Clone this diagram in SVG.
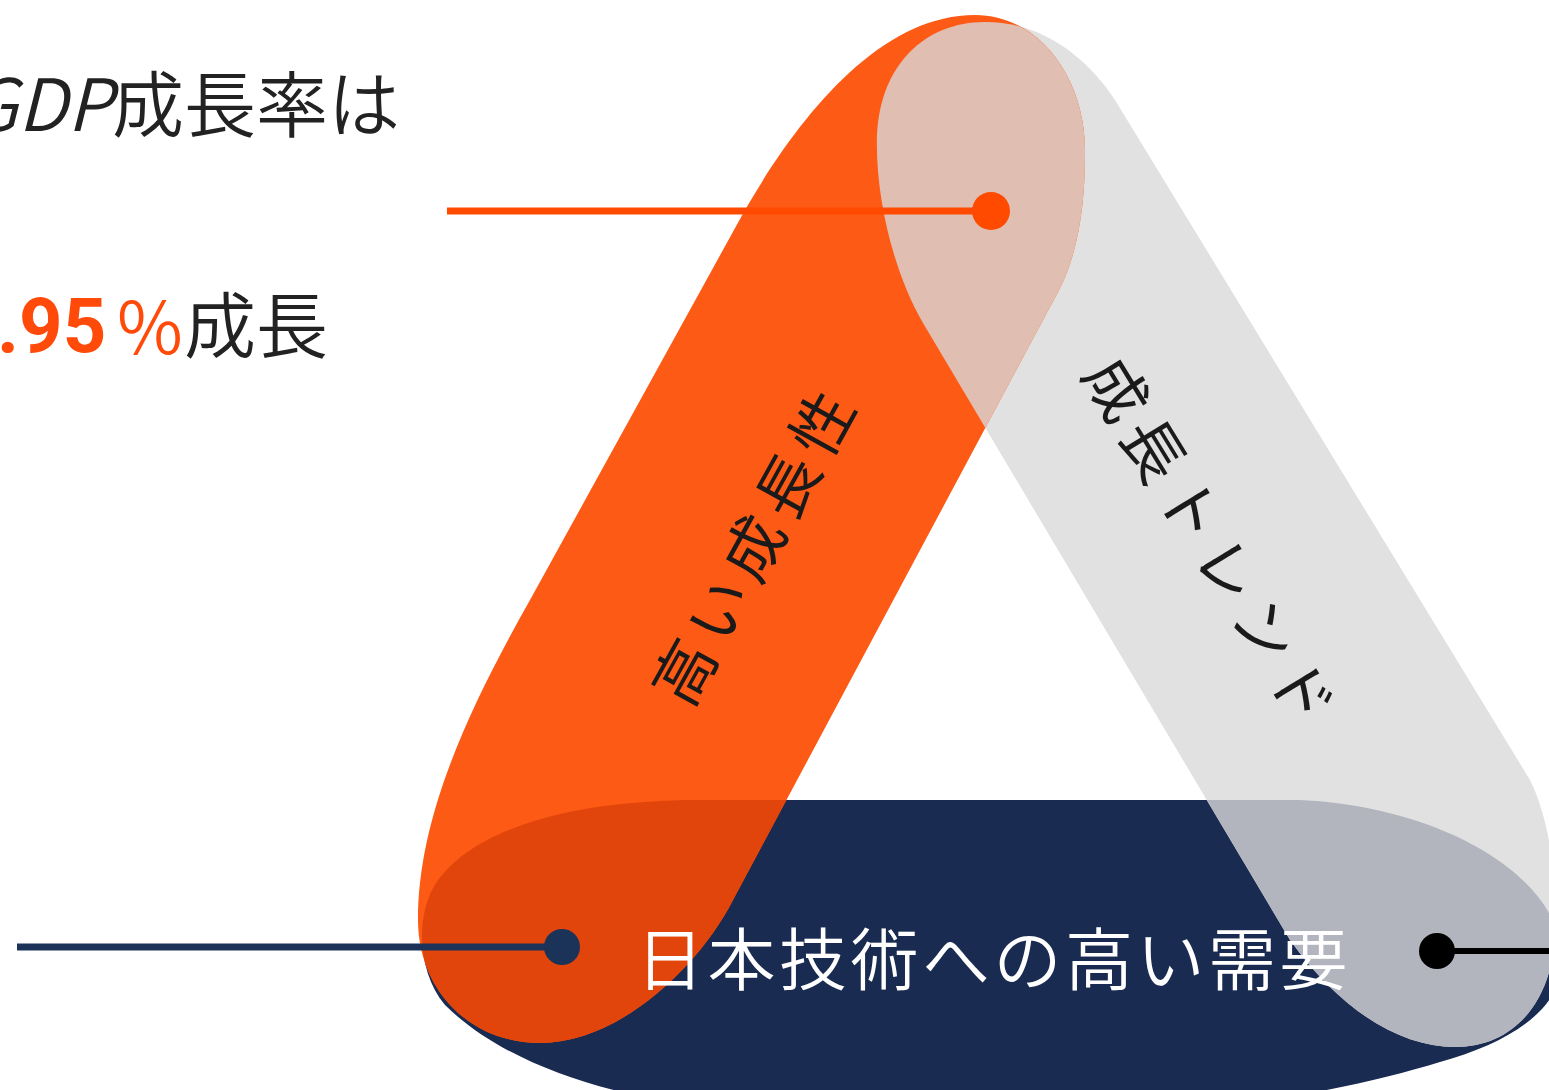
<svg xmlns="http://www.w3.org/2000/svg" width="1549" height="1090" viewBox="0 0 1549 1090">
<style>
.jp{font-family:"Noto Sans CJK JP","Noto Sans",sans-serif;font-weight:350}
.dark{fill:#222222}
.num{font-family:Roboto,"Liberation Sans",sans-serif;font-weight:700;fill:#ff4a0a}
.lbl{font-family:"Noto Sans CJK JP","Noto Sans",sans-serif;font-weight:400;fill:#1a1a1a;font-size:62px;letter-spacing:9px}
</style>
<defs>
<path id="pO" d="M 975 15 C 1040 15, 1087 80, 1085 155 C 1085 205, 1078 255, 1058 292 L 733 900 C 700 965, 620 1043, 540 1043 C 470 1043, 418 990, 418 920 C 418 820, 465 715, 530 600 L 745 210 C 800 115, 880 15, 975 15 Z"/>
<path id="pG" d="M 923 323 L 1290 940 C 1340 1010, 1400 1047, 1455 1047 C 1515 1047, 1556 1000, 1556 920 C 1556 860, 1545 810, 1530 780 L 1115 100 C 1085 55, 1040 22, 985 22 C 925 22, 880 65, 877 135 C 875 200, 895 275, 923 323 Z"/>
<path id="pN" d="M 700 800 L 1300 800 C 1420 805, 1540 860, 1560 940 C 1575 1000, 1520 1040, 1440 1062 C 1380 1080, 1300 1100, 1200 1105 L 700 1105 C 600 1095, 500 1060, 445 1005 C 420 975, 415 925, 432 890 C 465 830, 570 800, 700 800 Z"/>
<clipPath id="cG"><use href="#pG"/></clipPath>
<clipPath id="cN"><use href="#pN"/></clipPath>
</defs>
<rect width="1549" height="1090" fill="#ffffff"/>
<g id="band-navy"><use href="#pN" fill="#1a2b51"/></g>
<g id="band-grey"><use href="#pG" fill="#e1e1e1"/></g>
<g id="band-orange"><use href="#pO" fill="#fd5a16"/></g>
<g id="overlaps">
<use href="#pO" fill="#e0bfb2" clip-path="url(#cG)"/>
<use href="#pO" fill="#e2450b" clip-path="url(#cN)"/>
<use href="#pG" fill="#b3b5be" clip-path="url(#cN)"/>
</g>
<g id="label-orange"><text class="lbl" transform="translate(752,542) rotate(-61)" text-anchor="middle" dominant-baseline="central">高い成長性</text></g>
<g id="label-grey"><text class="lbl" transform="translate(1215,542) rotate(58.5)" text-anchor="middle" dominant-baseline="central">成長トレンド</text></g>
<g id="label-navy"><text class="jp" x="636" y="985" font-size="68" letter-spacing="3.5" fill="#ffffff">日本技術への高い需要</text></g>
<g id="text-gdp"><text class="jp dark" x="400" y="131" font-size="72" text-anchor="end"><tspan font-style="italic">GDP</tspan>成長率は</text></g>
<g id="text-rate">
<text class="num" x="-3" y="352" font-size="76">.95</text>
<text class="jp" x="117" y="354" font-size="72" font-weight="300" fill="#ff4a0a">%</text>
<text class="jp dark" x="184" y="352" font-size="72">成長</text>
</g>
<g id="connectors">
<line x1="447" y1="211" x2="990" y2="211" stroke="#ff4a00" stroke-width="7"/>
<circle cx="991" cy="211" r="19" fill="#ff4a00"/>
<line x1="17" y1="947" x2="560" y2="947" stroke="#1b3358" stroke-width="7"/>
<circle cx="562" cy="947" r="18" fill="#1b3358"/>
<line x1="1437" y1="951" x2="1549" y2="951" stroke="#000000" stroke-width="6"/>
<circle cx="1437" cy="951" r="18" fill="#000000"/>
</g>
</svg>
